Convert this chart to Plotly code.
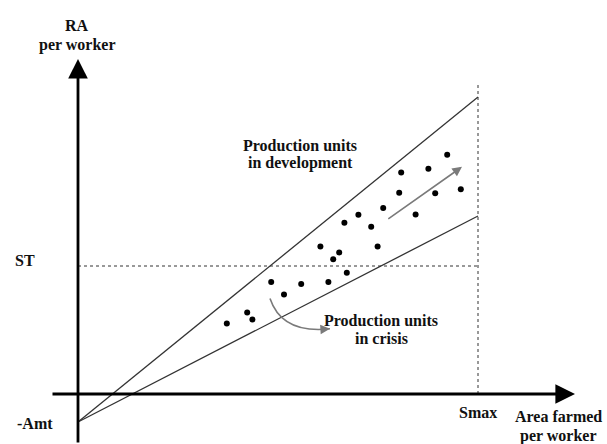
import plotly.graph_objects as go

# ---- data (conceptual units) ----
smax = 100.0            # Smax on the x axis
st = 32.0               # ST threshold on the y axis
amt = 7.0               # -Amt intercept (below zero)
upper_at_smax = 74.25   # upper boundary value at Smax
lower_at_smax = 44.5    # lower boundary value at Smax

units_x = [92.3, 80.8, 87.6, 80.3, 89.3, 95.7, 76.3, 84.4, 70.1, 66.6, 73.3, 60.6,
           74.9, 65.3, 63.8, 67.2, 48.3, 55.8, 62.6, 51.5, 42.3, 43.6, 37.2]
units_y = [59.8, 55.4, 56.3, 50.3, 50.2, 51.2, 46.5, 44.9, 44.8, 42.8, 41.8, 36.9,
           36.9, 35.4, 33.7, 30.3, 28.0, 27.5, 28.0, 24.9, 20.4, 18.6, 17.6]

dev_arrow_x = [77.2, 96.0]
dev_arrow_y = [43.5, 56.8]
crisis_curve_x = [48.0, 51.0, 63.0]
crisis_curve_y = [23.9, 15.0, 16.3]

x_axis_span = [-6.75, 124.25]
y_axis_span = [-12.5, 83.75]

FONT = "Liberation Serif, Times New Roman, serif"

fig = go.Figure()

fig.add_trace(go.Scatter(x=units_x, y=units_y, mode="markers",
                         marker=dict(color="black", size=6), hoverinfo="skip"))

shapes = []
# boundary lines
shapes.append(dict(type="line", xref="x", yref="y", x0=0, y0=-amt, x1=smax, y1=upper_at_smax,
                   line=dict(color="#333333", width=1.3)))
shapes.append(dict(type="line", xref="x", yref="y", x0=0, y0=-amt, x1=smax, y1=lower_at_smax,
                   line=dict(color="#333333", width=1.3)))
# dotted ST and Smax
shapes.append(dict(type="line", xref="x", yref="y", x0=0, y0=st, x1=smax, y1=st,
                   line=dict(color="#333333", width=1, dash="dot")))
shapes.append(dict(type="line", xref="x", yref="y", x0=smax, y0=0, x1=smax, y1=y_axis_span[1] - 6,
                   line=dict(color="#333333", width=1, dash="dot")))
# curved crisis arrow body
shapes.append(dict(type="path", xref="x", yref="y",
                   path=f"M {crisis_curve_x[0]},{crisis_curve_y[0]} Q {crisis_curve_x[1]},{crisis_curve_y[1]} {crisis_curve_x[2]},{crisis_curve_y[2]}",
                   line=dict(color="#7a7a7a", width=1.6)))

annotations = []
# axes with arrowheads
annotations.append(dict(x=0, y=y_axis_span[1], ax=0, ay=y_axis_span[0], xref="x", yref="y",
                        axref="x", ayref="y", text="", showarrow=True, arrowhead=2,
                        arrowsize=1.4, arrowwidth=2.8, arrowcolor="black", standoff=0))
annotations.append(dict(x=x_axis_span[1], y=0, ax=x_axis_span[0], ay=0, xref="x", yref="y",
                        axref="x", ayref="y", text="", showarrow=True, arrowhead=2,
                        arrowsize=1.4, arrowwidth=2.8, arrowcolor="black", standoff=0))
# development arrow
annotations.append(dict(x=dev_arrow_x[1], y=dev_arrow_y[1], ax=dev_arrow_x[0], ay=dev_arrow_y[0],
                        xref="x", yref="y", axref="x", ayref="y", text="", showarrow=True,
                        arrowhead=2, arrowsize=1.2, arrowwidth=1.6, arrowcolor="#7a7a7a", standoff=0))
# crisis arrow head
annotations.append(dict(x=crisis_curve_x[2], y=crisis_curve_y[2], ax=crisis_curve_x[2] - 1.5,
                        ay=crisis_curve_y[2] - 0.1, xref="x", yref="y", axref="x", ayref="y",
                        text="", showarrow=True, arrowhead=2, arrowsize=1.2, arrowwidth=1.6,
                        arrowcolor="#7a7a7a", standoff=0))

def label(x, y, txt, size=16):
    annotations.append(dict(x=x, y=y, xref="x", yref="y", text=f"<b>{txt}</b>", showarrow=False,
                            xanchor="center", yanchor="middle",
                            font=dict(family=FONT, size=size, color="#111111")))

label(55.5, 62.2, "Production units")
label(55.5, 57.8, "in development")
label(75.75, 18.5, "Production units")
label(75.75, 14.0, "in crisis")
label(-0.25, 92.25, "RA")
label(-0.25, 87.25, "per worker")
label(-13.25, 33.5, "ST")
label(-10.75, -7.25, "-Amt")
label(100, -4.5, "Smax")
label(120, -5.5, "Area farmed")
label(120, -10.4, "per worker")

fig.update_layout(
    width=607, height=444, autosize=False,
    margin=dict(l=0, r=0, t=0, b=0),
    paper_bgcolor="white", plot_bgcolor="white",
    showlegend=False,
    shapes=shapes, annotations=annotations,
    xaxis=dict(range=[-19.5, 132.25], visible=False, showgrid=False, zeroline=False, fixedrange=True),
    yaxis=dict(range=[-12.5, 98.5], visible=False, showgrid=False, zeroline=False, fixedrange=True),
)

fig.write_html("out.html", config={"displayModeBar": False, "staticPlot": True},
               post_script="document.body.style.margin='0';document.body.style.overflow='hidden';")
